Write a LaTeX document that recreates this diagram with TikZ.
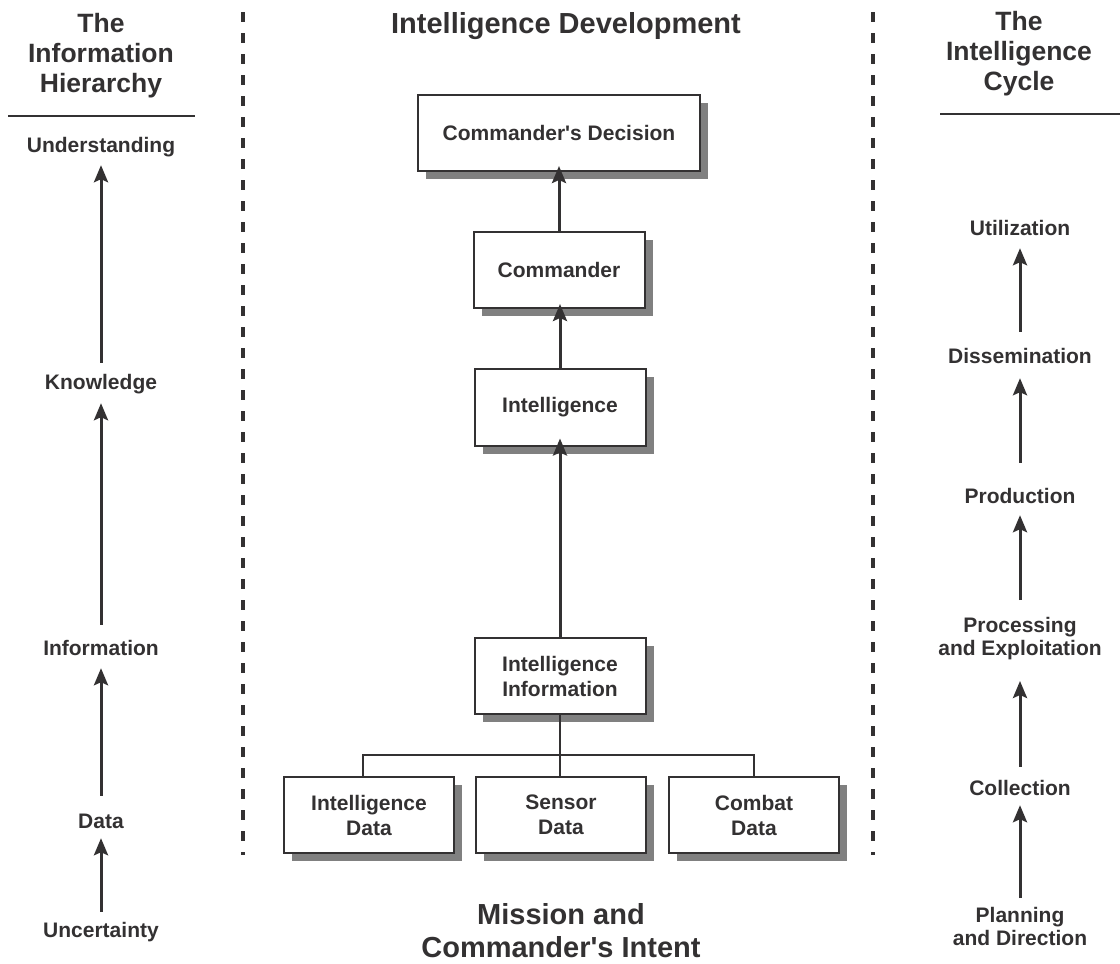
\documentclass[tikz,border=0pt]{standalone}
\usepackage{fontspec}
\setmainfont{Liberation Sans}
\usetikzlibrary{arrows.meta,shadows}
\definecolor{ink}{HTML}{333132}
\definecolor{shade}{HTML}{808080}
\begin{document}
\begin{tikzpicture}[x=1pt,y=-1pt,
  lab/.style={font=\fontsize{21}{23}\selectfont\bfseries, text=ink, inner sep=0pt},
  one/.style={lab, text height=15pt, text depth=0pt, anchor=base},
  two/.style={lab, align=center, anchor=north},
  head/.style={font=\fontsize{26.5}{30}\selectfont\bfseries, text=ink, inner sep=0pt, align=center, anchor=north},
  big/.style={font=\fontsize{29}{33}\selectfont\bfseries, text=ink, inner sep=0pt, align=center},
  box/.style={draw=ink, line width=2pt, fill=white, minimum width=171pt, minimum height=76pt,
    inner sep=0pt, align=center, font=\fontsize{21}{25}\selectfont\bfseries, text=ink,
    drop shadow={shadow xshift=8pt, shadow yshift=-8pt, fill=shade, opacity=1, draw=none}},
  arr/.style={draw=ink, line width=3pt, -{Stealth[length=17pt,width=14pt,inset=3pt]}},
  conn/.style={draw=ink, line width=2.5pt},
  rulestyle/.style={draw=ink, line width=2.5pt},
  sepline/.style={draw=ink, line width=3.4pt, dash pattern=on 9.5pt off 11.5pt}]
\useasboundingbox (0,0) rectangle (1120,964);

% separators
\coordinate (s1a) at (243,12); \coordinate (s1b) at (243,855);
\coordinate (s2a) at (873,12); \coordinate (s2b) at (873,855);
\draw[sepline] (s1a) -- (s1b);
\draw[sepline] (s2a) -- (s2b);

% headers
\node[head] (hl) at (101,13) {The\\Information\\Hierarchy};
\node[head] (hr) at (1019,11) {The\\Intelligence\\Cycle};
\node[big, anchor=base] (title) at (566,33) {Intelligence Development};
\node[big, anchor=north] (bottom) at (561,903) {Mission and\\Commander\textquotesingle s Intent};
\coordinate (r1a) at (8,116); \coordinate (r1b) at (195,116);
\coordinate (r2a) at (940,114); \coordinate (r2b) at (1120,114);
\draw[rulestyle] (r1a) -- (r1b);
\draw[rulestyle] (r2a) -- (r2b);

% left column
\node[one] (und) at (101,152) {Understanding};
\node[one] (know) at (101,389) {Knowledge};
\node[one] (info) at (101,655) {Information};
\node[one] (data) at (101,828) {Data};
\node[one] (unc) at (101,937) {Uncertainty};
\draw[arr, shorten <=10pt, shorten >=10pt] (unc.north) -- (data.south);
\draw[arr, shorten <=17pt, shorten >=13pt] (data.north) -- (info.south);
\draw[arr, shorten <=15pt, shorten >=14pt] (info.north) -- (know.south);
\draw[arr, shorten <=11pt, shorten >=13pt] (know.north) -- (und.south);

% right column
\node[one] (util) at (1020,235) {Utilization};
\node[one] (diss) at (1020,363) {Dissemination};
\node[one] (prod) at (1020,503) {Production};
\node[two] (proc) at (1020,617) {Processing\\and Exploitation};
\node[one] (coll) at (1020,795) {Collection};
\node[two] (plan) at (1020,907) {Planning\\and Direction};
\draw[arr, shorten <=9pt, shorten >=10pt] (plan.north) -- (coll.south);
\draw[arr, shorten <=13pt, shorten >=21pt] (coll.north) -- (proc.south);
\draw[arr, shorten <=17pt, shorten >=12pt] (proc.north) -- (prod.south);
\draw[arr, shorten <=25pt, shorten >=15pt] (prod.north) -- (diss.south);
\draw[arr, shorten <=16pt, shorten >=13pt] (diss.north) -- (util.south);

% centre boxes
\node[box, minimum width=282pt] (dec) at (559,133) {Commander\textquotesingle s Decision};
\node[box] (cmd) at (559,270) {Commander};
\node[box, minimum height=77pt] (intel) at (560,407) {Intelligence};
\node[box] (ii) at (560,676) {Intelligence\\Information};
\node[box, minimum width=170pt] (id) at (369,815) {Intelligence\\Data};
\node[box, minimum width=170pt] (sd) at (561,815) {Sensor\\Data};
\node[box, minimum width=170pt] (cd) at (754,815) {Combat\\Data};

\draw[arr, shorten >=-6pt] (cmd.north) -- (cmd.north |- dec.south);
\draw[arr, shorten >=-5pt] (intel.north) -- (intel.north |- cmd.south);
\draw[arr, shorten >=-8pt] (ii.north) -- (ii.north |- intel.south);

\coordinate (jn) at (560,755);
\draw[conn] (ii.south) -- (jn);
\draw[conn] (ii.south |- sd.north) -- (jn);
\draw[conn] (id.north) ++(-6,0) |- (jn) -| (cd.north);
\end{tikzpicture}
\end{document}
